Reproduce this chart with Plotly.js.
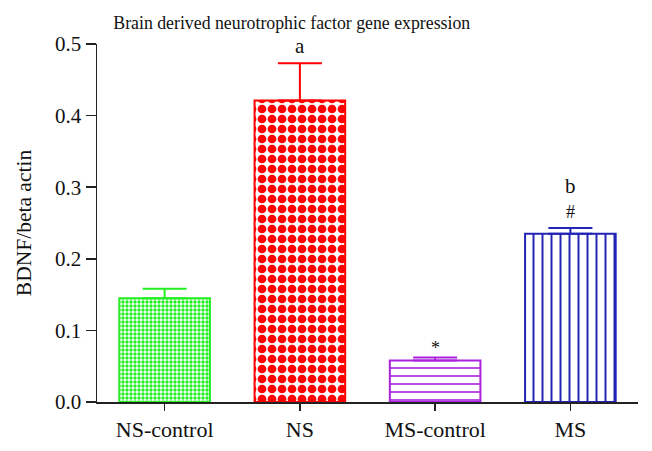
<!DOCTYPE html>
<html>
<head>
<meta charset="utf-8">
<script src="https://cdn.plot.ly/plotly-3.0.1.min.js"></script>
<style>
  html, body { margin: 0; padding: 0; background: #fff; }
  #plot { width: 652px; height: 451px; }
</style>
</head>
<body>
<div id="plot"></div>
<script>
// groups and values
var groups = ["NS-control", "NS", "MS-control", "MS"];
var means = [0.145, 0.421, 0.058, 0.235];
var sem = [0.013, 0.052, 0.004, 0.008];
var marks = ["", "a", "*", "#"];
var marks2 = ["", "", "", "b"];

var colors = ["#22ee22", "#ff0000", "#aa22dd", "#2323b5"];
var shapes = [".", ".", "-", "|"];
var sizes = [4, 10, 8, 9];
var solid = [0.55, 0.6, 0.2, 0.22];

var serif = "Liberation Serif, Times New Roman, serif";

var data = [];
for (var i = 0; i < groups.length; i++) {
  data.push({
    type: "bar",
    x: [groups[i]],
    y: [means[i]],
    width: 0.67,
    name: groups[i],
    marker: {
      color: colors[i],
      line: { color: colors[i], width: 2 },
      pattern: {
        shape: shapes[i],
        fgcolor: colors[i],
        bgcolor: "white",
        size: sizes[i],
        solidity: solid[i],
        fillmode: "replace"
      }
    },
    error_y: {
      type: "data",
      symmetric: false,
      array: [sem[i]],
      arrayminus: [0],
      color: colors[i],
      thickness: 2,
      width: 22
    },
    hoverinfo: "x+y"
  });
}

var annotations = [];
for (var j = 0; j < groups.length; j++) {
  if (marks[j]) {
    var shift = 4;
    if (marks[j] == "a") shift = 3;
    if (marks[j] == "*") shift = -2;
    annotations.push({
      x: groups[j], y: means[j] + sem[j],
      text: marks[j], showarrow: false,
      yanchor: "bottom", yshift: shift,
      font: { family: serif, size: marks[j] == "a" ? 21 : 18, color: "#111" }
    });
  }
  if (marks2[j]) {
    annotations.push({
      x: groups[j], y: means[j] + sem[j],
      text: marks2[j], showarrow: false,
      yanchor: "bottom", yshift: 28,
      font: { family: serif, size: 21, color: "#111" }
    });
  }
}

var layout = {
  width: 652,
  height: 451,
  margin: { l: 97, r: 14, t: 44, b: 49 },
  paper_bgcolor: "white",
  plot_bgcolor: "white",
  showlegend: false,
  barmode: "overlay",
  font: { family: serif, size: 20, color: "#111" },
  title: {
    text: "Brain derived neurotrophic factor gene expression",
    font: { family: serif, size: 17.8, color: "#111" },
    x: 0.36, xref: "paper", xanchor: "center",
    y: 0.95, yref: "container", yanchor: "middle"
  },
  xaxis: {
    type: "category",
    range: [-0.5, 3.5],
    showline: true, linecolor: "#222", linewidth: 1.5,
    ticks: "outside", ticklen: 7, tickwidth: 1.5, tickcolor: "#222",
    showgrid: false, zeroline: false,
    tickfont: { family: serif, size: 22, color: "#111" }
  },
  yaxis: {
    range: [0, 0.5],
    dtick: 0.1,
    tickformat: ".1f",
    showline: true, linecolor: "#222", linewidth: 1.5,
    ticks: "outside", ticklen: 10, tickwidth: 1.5, tickcolor: "#222",
    showgrid: false, zeroline: false,
    tickfont: { family: serif, size: 21, color: "#111" },
    title: {
      text: "BDNF/beta actin",
      font: { family: serif, size: 21.5, color: "#111" },
      standoff: 17
    }
  },
  annotations: annotations
};

Plotly.newPlot("plot", data, layout, { displayModeBar: false, staticPlot: true });
</script>
</body>
</html>
